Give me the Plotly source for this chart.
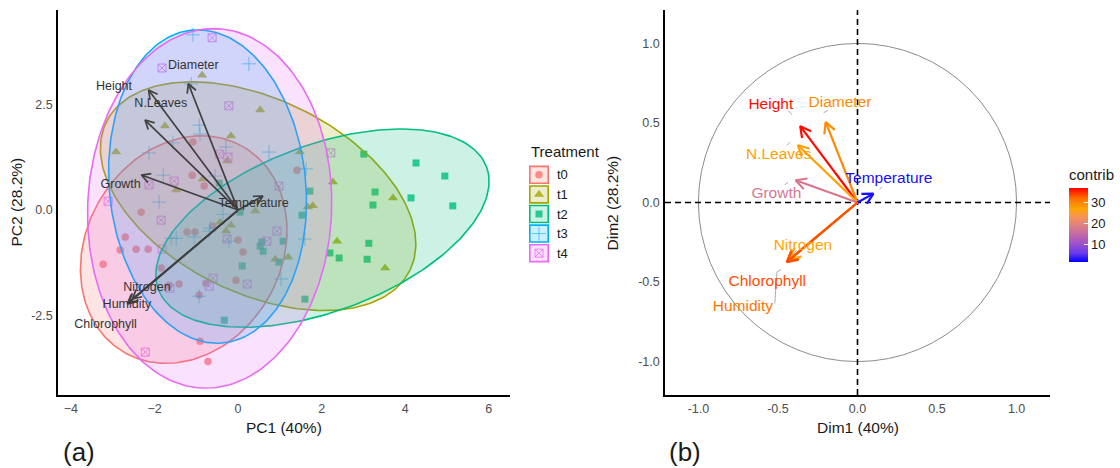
import numpy as np
import plotly.graph_objects as go

# ------------------------------------------------------------------ data
treatments = ["t0", "t1", "t2", "t3", "t4"]
trt_colors = ["#F8766D", "#A3A500", "#00BF7D", "#00B0F6", "#E76BF3"]

t0_x = [-2.32, -2.70, -2.82, -2.44, -2.15, -3.23, -1.22, -1.03, -0.60, 0.00, 0.12, -1.84,
        -1.65, -1.41, -0.77, -0.05, -0.93, -0.91, -0.72, -1.08, -1.10, -0.81, 1.41]
t0_y = [-0.05, -0.64, -0.95, -0.93, -0.93, -1.29, -0.52, -0.52, -0.38, -0.71, -1.00, -1.38,
        -1.79, -1.76, -1.74, -1.67, -2.02, -3.12, -3.60, 1.62, 0.83, 0.57, 0.95]
t1_x = [-0.86, 0.53, -1.75, -0.17, -2.92, -0.26, 1.48, 2.27, -1.48, -0.84, 1.67, 1.79,
        0.41, -0.43, -0.17, -0.29, 0.89, 1.20, 2.37, 3.71, 3.52]
t1_y = [3.21, 2.38, 2.00, 1.76, 1.38, 1.17, 1.38, 0.67, 0.48, 0.74, 0.07, 0.10,
        -0.02, -0.29, -0.36, -0.50, -1.17, -1.12, -0.74, 0.29, -1.38]
t2_x = [3.01, 4.26, 4.95, 5.14, 3.28, 3.23, 4.14, 3.13, 2.20, 2.42, 3.09, 1.72,
        1.53, 1.60, 1.08, 0.57, 0.53, 0.60, 0.98, 0.10, -0.33, 0.05, -0.45]
t2_y = [1.33, 1.12, 0.81, 0.10, 0.43, 0.12, 0.29, -0.79, -1.02, -1.14, -1.17, 0.45,
        -0.12, -2.12, -0.74, -0.76, -0.86, -0.98, -1.24, -1.33, -2.62, -0.05, 0.64]
t3_x = [-1.08, 0.26, -1.12, -0.93, -0.91, -2.13, -1.56, -0.29, 0.74, -1.79, -0.55, 1.63,
        -1.89, -0.36, -0.67, -1.60, -1.48, -1.05, -0.69, -0.22, 1.60, 1.03, -0.93]
t3_y = [4.17, 3.48, 3.00, 2.02, 1.81, 1.36, 1.60, 1.50, 1.38, 0.83, 0.81, 0.98,
        0.19, -0.10, -0.43, -0.67, -0.67, -0.64, -0.50, -0.74, -0.69, -1.64, -2.05]
t4_x = [-0.62, -1.82, -0.22, -0.45, -0.24, -1.53, -2.13, 0.98, 2.22, -1.84, 0.93, -3.11,
        -1.82, 0.69, -0.26, -0.60, -0.69, 0.22, -1.63, -2.22]
t4_y = [4.10, 3.38, 2.48, 1.33, 1.26, 0.69, 0.60, 0.57, 1.36, -0.24, -0.50, 0.21,
        -0.93, -0.74, -0.69, -1.62, -1.81, -1.76, -1.86, -3.38]

# confidence ellipses per treatment (centre, semi-axes, rotation in degrees)
ell_cx = [-1.30, 0.48, 2.02, -0.73, -0.68]
ell_cy = [-0.94, 0.33, -0.43, 0.56, 0.04]
ell_a = [2.83, 4.04, 4.19, 3.74, 4.28]
ell_b = [2.33, 2.31, 1.98, 2.35, 2.92]
ell_angle = [59.0, -25.7, 20.3, 95.8, 87.7]

# variable loadings (correlation circle) and contributions
variables = ["Height", "Diameter", "N.Leaves", "Growth", "Temperature",
             "Nitrogen", "Humidity", "Chlorophyll"]
dim1 = [-0.36, -0.20, -0.374, -0.389, 0.10, -0.425, -0.44, -0.445]
dim2 = [0.48, 0.505, 0.36, 0.14, 0.056, -0.355, -0.37, -0.375]
contrib = [36.5, 29.5, 27.5, 17.5, 2.5, 27.0, 31.5, 33.5]
biplot_scale = 5.95

# label positions in panel (a) and panel (b)
pca_lab_x = [-2.97, -1.07, -1.85, -2.81, 0.37, -2.18, -2.66, -3.17]
pca_lab_y = [2.93, 3.44, 2.52, 0.61, 0.14, -1.84, -2.26, -2.72]
var_lab_x = [-0.545, -0.11, -0.495, -0.51, 0.197, -0.343, -0.72, -0.567]
var_lab_y = [0.615, 0.627, 0.298, 0.053, 0.147, -0.275, -0.657, -0.50]

# repel connector segments in panel (b)
seg_x0 = [-0.437, -0.213, -0.444, -0.458, 0.138, -0.405, -0.479, -0.506]
seg_y0 = [0.578, 0.564, 0.360, 0.110, 0.082, -0.330, -0.420, -0.436]
seg_x1 = [-0.410, -0.186, -0.423, -0.437, 0.155, -0.384, -0.506, -0.520]
seg_y1 = [0.552, 0.580, 0.378, 0.127, 0.099, -0.300, -0.436, -0.635]

pc_ticks = [-4, -2, 0, 2, 4, 6]
pc2_ticks = [-2.5, 0.0, 2.5]
dim_ticks = [-1.0, -0.5, 0.0, 0.5, 1.0]
contrib_ticks = [10, 20, 30]
contrib_min, contrib_max = 1.5, 37.0

colorscale = [[0.00, "#0000FF"], [0.12, "#6A38EE"], [0.24, "#9A50CC"], [0.38, "#C56AA5"],
              [0.52, "#E5857A"], [0.62, "#F59650"], [0.72, "#FFA500"], [0.86, "#FF6E00"],
              [1.00, "#FF0000"]]

# ------------------------------------------------------------------ helpers
FONT = "Liberation Sans, Arial, sans-serif"
W, H = 1120, 468
A_L, A_R, TOP, BOT = 58, 510, 10, 395
B_L, B_R = 665, 1050
PA_RX, PA_RY = [-4.31, 6.51], [-4.40, 4.76]
PB_R = [-1.21, 1.21]
SX_A = (A_R - A_L) / (PA_RX[1] - PA_RX[0])
SY_A = (BOT - TOP) / (PA_RY[1] - PA_RY[0])
S_B = (B_R - B_L) / (PB_R[1] - PB_R[0])


def hex2rgb(h):
    h = h.lstrip("#")
    return tuple(int(h[i:i + 2], 16) for i in (0, 2, 4))


def rgba(h, a):
    r, g, b = hex2rgb(h)
    return f"rgba({r},{g},{b},{a})"


def scale_color(v):
    t = (v - contrib_min) / (contrib_max - contrib_min)
    t = min(max(t, 0), 1)
    for (p0, c0), (p1, c1) in zip(colorscale[:-1], colorscale[1:]):
        if p0 <= t <= p1:
            f = (t - p0) / (p1 - p0)
            a, b = hex2rgb(c0), hex2rgb(c1)
            return "rgb(%d,%d,%d)" % tuple(round(a[i] + f * (b[i] - a[i])) for i in range(3))
    return colorscale[-1][1]


def ellipse(cx, cy, a, b, ang, n=240):
    t = np.linspace(0, 2 * np.pi, n)
    th = np.deg2rad(ang)
    x = cx + a * np.cos(t) * np.cos(th) - b * np.sin(t) * np.sin(th)
    y = cy + a * np.cos(t) * np.sin(th) + b * np.sin(t) * np.cos(th)
    return x, y


def arrow_path(x0, y0, x1, y1, head_px, sx, sy, ang_deg=28):
    dxp, dyp = (x1 - x0) * sx, (y1 - y0) * sy
    L = np.hypot(dxp, dyp)
    bx, by = -dxp / L, -dyp / L
    a = np.deg2rad(ang_deg)
    r1 = (bx * np.cos(a) - by * np.sin(a), bx * np.sin(a) + by * np.cos(a))
    r2 = (bx * np.cos(a) + by * np.sin(a), -bx * np.sin(a) + by * np.cos(a))
    xs = [x0, x1, None, x1 + r1[0] * head_px / sx, x1, x1 + r2[0] * head_px / sx, None]
    ys = [y0, y1, None, y1 + r1[1] * head_px / sy, y1, y1 + r2[1] * head_px / sy, None]
    return xs, ys


fig = go.Figure()

# ------------------------------------------------------------------ panel (a)
pts = [(t0_x, t0_y), (t1_x, t1_y), (t2_x, t2_y), (t3_x, t3_y), (t4_x, t4_y)]
symbols = ["circle", "triangle-up", "square", "cross-thin-open", "square-x-open"]
sizes = [7.5, 9, 7, 10, 8]
line_w = [0, 0, 0, 0.9, 1.0]
for i, (px, py) in enumerate(pts):
    fig.add_trace(go.Scatter(
        x=px, y=py, mode="markers", xaxis="x", yaxis="y", showlegend=False,
        marker=dict(symbol=symbols[i], size=sizes[i], color=trt_colors[i],
                    opacity=0.65 if i == 3 else 0.8,
                    line=dict(color=trt_colors[i], width=line_w[i]))))

for i in range(len(treatments)):
    ex, ey = ellipse(ell_cx[i], ell_cy[i], ell_a[i], ell_b[i], ell_angle[i])
    fig.add_trace(go.Scatter(
        x=ex, y=ey, mode="lines", fill="toself", fillcolor=rgba(trt_colors[i], 0.2),
        line=dict(color=trt_colors[i], width=1.6), xaxis="x", yaxis="y",
        showlegend=False, hoverinfo="skip"))

ax, ay = [], []
for j in range(len(variables)):
    xs, ys = arrow_path(0, 0, dim1[j] * biplot_scale, dim2[j] * biplot_scale, 10, SX_A, SY_A)
    ax += xs
    ay += ys
fig.add_trace(go.Scatter(x=ax, y=ay, mode="lines", xaxis="x", yaxis="y", showlegend=False,
                         line=dict(color="#404040", width=1.7), hoverinfo="skip"))
fig.add_trace(go.Scatter(x=pca_lab_x, y=pca_lab_y, mode="text", text=variables,
                         textfont=dict(family=FONT, size=12.5, color="#333333"),
                         xaxis="x", yaxis="y", showlegend=False, hoverinfo="skip"))

# ------------------------------------------------------------------ panel (b)
for j in range(len(variables)):
    fig.add_trace(go.Scatter(x=[seg_x0[j], seg_x1[j]], y=[seg_y0[j], seg_y1[j]], mode="lines",
                             line=dict(color="#A0A0A0", width=0.9), xaxis="x2", yaxis="y2",
                             showlegend=False, hoverinfo="skip"))
for j in range(len(variables)):
    xs, ys = arrow_path(0, 0, dim1[j], dim2[j], 12, S_B, S_B)
    fig.add_trace(go.Scatter(x=xs, y=ys, mode="lines", xaxis="x2", yaxis="y2", showlegend=False,
                             line=dict(color=scale_color(contrib[j]), width=2.2), hoverinfo="skip"))
fig.add_trace(go.Scatter(
    x=var_lab_x, y=var_lab_y, mode="text", text=variables,
    textfont=dict(family=FONT, size=15.5, color=[scale_color(c) for c in contrib]),
    xaxis="x2", yaxis="y2", showlegend=False, hoverinfo="skip"))
# colour bar carrier
fig.add_trace(go.Scatter(
    x=dim1, y=dim2, mode="markers", xaxis="x2", yaxis="y2", showlegend=False, hoverinfo="skip",
    marker=dict(size=1, opacity=0, color=contrib, colorscale=colorscale,
                cmin=contrib_min, cmax=contrib_max, showscale=True,
                colorbar=dict(x=1069 / W, xanchor="left", y=1 - 214 / H, yanchor="middle",
                              len=96, lenmode="pixels", thickness=19, thicknessmode="pixels",
                              outlinewidth=0, xpad=0, ypad=0,
                              tickvals=contrib_ticks, ticks="inside", ticklen=4,
                              tickcolor="white", tickwidth=1,
                              tickfont=dict(family=FONT, size=13, color="#1a1a1a"),
                              title=dict(text="contrib", side="top",
                                         font=dict(family=FONT, size=15, color="#1a1a1a"))))))

# ------------------------------------------------------------------ legend for treatments
for i in range(len(treatments)):
    fig.add_trace(go.Scatter(
        x=[0.5], y=[i + 0.5], mode="markers", xaxis="x3", yaxis="y3", showlegend=False,
        hoverinfo="skip",
        marker=dict(symbol=symbols[i], size=sizes[i], color=trt_colors[i],
                    opacity=0.65 if i == 3 else 0.8,
                    line=dict(color=trt_colors[i], width=line_w[i]))))

shapes = []
for i in range(len(treatments)):
    shapes.append(dict(type="rect", xref="x3", yref="y3", x0=0.04, x1=0.96,
                       y0=i + 0.07, y1=i + 0.93, fillcolor=rgba(trt_colors[i], 0.2),
                       line=dict(color=trt_colors[i], width=1.6), layer="below"))
shapes.append(dict(type="circle", xref="x2", yref="y2", x0=-1, x1=1, y0=-1, y1=1,
                   line=dict(color="#8C8C8C", width=1), layer="below"))
shapes.append(dict(type="line", xref="x2", yref="y2", x0=0, x1=0, y0=PB_R[0], y1=PB_R[1],
                   line=dict(color="black", width=1.6, dash="6px,4px"), layer="below"))
shapes.append(dict(type="line", xref="x2", yref="y2", x0=PB_R[0], x1=PB_R[1], y0=0, y1=0,
                   line=dict(color="black", width=1.6, dash="6px,4px"), layer="below"))

annotations = []
for i, t in enumerate(treatments):
    annotations.append(dict(text=t, xref="paper", yref="y3", x=555 / W, y=i + 0.5,
                            xanchor="left", yanchor="middle", showarrow=False,
                            font=dict(family=FONT, size=13, color="#1a1a1a")))
annotations.append(dict(text="Treatment", xref="paper", yref="paper", x=529 / W,
                        y=1 - 152 / H, xanchor="left", yanchor="middle", showarrow=False,
                        font=dict(family=FONT, size=15, color="#1a1a1a")))


def title_ann(text, x, y, angle=0, size=15.5):
    return dict(text=text, xref="paper", yref="paper", x=x / W, y=1 - y / H,
                xanchor="center", yanchor="middle", showarrow=False, textangle=angle,
                font=dict(family=FONT, size=size, color="#1a1a1a"))


annotations += [
    title_ann("PC1 (40%)", (A_L + A_R) / 2, 427),
    title_ann("PC2 (28.2%)", 16, (TOP + BOT) / 2, -90),
    title_ann("Dim1 (40%)", (B_L + B_R) / 2, 427),
    title_ann("Dim2 (28.2%)", 612, (TOP + BOT) / 2, -90),
    title_ann("(a)", 79, 452, size=26),
    title_ann("(b)", 685, 452, size=26),
]

tickfont = dict(family=FONT, size=12.5, color="#4D4D4D")
axis_common = dict(showgrid=False, zeroline=False, showline=True, linecolor="black",
                   linewidth=1.6, ticks="outside", ticklen=1, tickcolor="rgba(0,0,0,0)",
                   tickfont=tickfont, fixedrange=True)

fig.update_layout(
    width=W, height=H, margin=dict(l=0, r=0, t=0, b=0),
    paper_bgcolor="white", plot_bgcolor="white", showlegend=False,
    font=dict(family=FONT),
    xaxis=dict(domain=[A_L / W, A_R / W], range=PA_RX, tickvals=pc_ticks,
               anchor="y", **axis_common),
    yaxis=dict(domain=[1 - BOT / H, 1 - TOP / H], range=PA_RY, tickvals=pc2_ticks,
               ticktext=["%.1f" % v for v in pc2_ticks], anchor="x", **axis_common),
    xaxis2=dict(domain=[B_L / W, B_R / W], range=PB_R, tickvals=dim_ticks,
                ticktext=["%.1f" % v for v in dim_ticks], anchor="y2", **axis_common),
    yaxis2=dict(domain=[1 - BOT / H, 1 - TOP / H], range=PB_R, tickvals=dim_ticks,
                ticktext=["%.1f" % v for v in dim_ticks], anchor="x2", **axis_common),
    xaxis3=dict(domain=[529 / W, 549 / W], range=[0, 1], visible=False, fixedrange=True,
                anchor="y3"),
    yaxis3=dict(domain=[1 - 263 / H, 1 - 165 / H], range=[5, 0], visible=False,
                fixedrange=True, anchor="x3"),
    shapes=shapes, annotations=annotations,
)

fig.write_html("out.html")
